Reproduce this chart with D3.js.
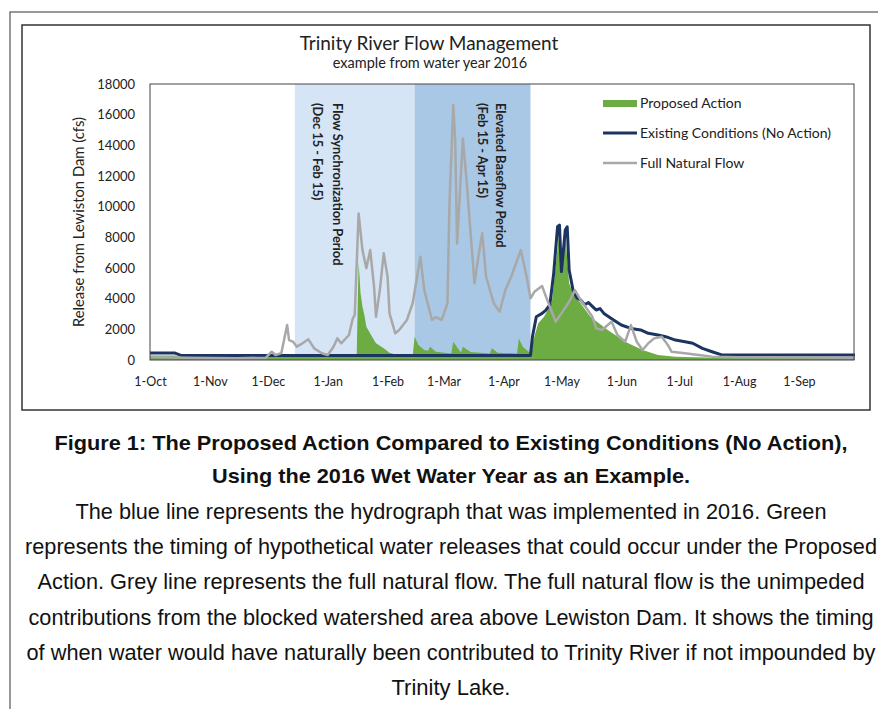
<html>
  <body style="margin:0;background:#fff">
    <style>
      .chart text { font-family: Lato, "Open Sans", sans-serif; fill: #222; }
      .caption text { font-family: "Liberation Sans Narrow", "Liberation Sans", Arial, sans-serif; fill: #111; }
      .axis path, .axis line { stroke: none; }
    </style>
    <script src="https://d3js.org/d3.v7.min.js"></script>
    <script>
      // Full Natural Flow (grey line)
      var naturalDates = ["2015-10-01","2015-10-20","2015-11-15","2015-11-30","2015-12-03","2015-12-05","2015-12-08","2015-12-11","2015-12-12","2015-12-14","2015-12-16","2015-12-19","2015-12-22","2015-12-25","2015-12-29","2016-01-01","2016-01-04","2016-01-06","2016-01-08","2016-01-12","2016-01-14","2016-01-15","2016-01-17","2016-01-19","2016-01-21","2016-01-23","2016-01-25","2016-01-26","2016-01-28","2016-01-30","2016-02-01","2016-02-02","2016-02-05","2016-02-07","2016-02-11","2016-02-14","2016-02-18","2016-02-20","2016-02-24","2016-02-26","2016-02-29","2016-03-03","2016-03-04","2016-03-06","2016-03-07","2016-03-08","2016-03-11","2016-03-13","2016-03-17","2016-03-19","2016-03-21","2016-03-23","2016-03-27","2016-03-30","2016-04-02","2016-04-05","2016-04-10","2016-04-13","2016-04-15","2016-04-17","2016-04-21","2016-04-23","2016-04-28","2016-05-01","2016-05-05","2016-05-08","2016-05-11","2016-05-14","2016-05-17","2016-05-19","2016-05-22","2016-05-25","2016-05-27","2016-05-30","2016-06-03","2016-06-06","2016-06-09","2016-06-12","2016-06-15","2016-06-18","2016-06-22","2016-06-25","2016-06-27","2016-07-04","2016-07-11","2016-07-18","2016-08-01","2016-09-30"];
      var naturalFlow = [200,150,120,150,540,330,450,2280,1300,1200,870,1090,1350,760,440,330,870,1410,1090,1630,2720,2930,9560,7170,5980,7170,4780,2820,4560,6960,5430,3040,1740,1960,2610,3700,6740,4560,2610,2800,2610,3700,10000,16630,14300,7600,14450,11520,5000,6740,8260,5430,3700,3150,4560,5430,7170,5430,4020,4450,4820,4130,2500,3040,3800,4560,3910,3370,2820,2060,1960,2280,2500,1630,1190,2280,1190,650,1090,1410,1520,1000,540,440,330,220,180,150];

      // Existing Conditions (No Action) (navy line)
      var existingDates = ["2015-10-01","2015-10-14","2015-10-17","2016-04-15","2016-04-16","2016-04-18","2016-04-21","2016-04-23","2016-04-25","2016-04-27","2016-04-29","2016-04-30","2016-05-01","2016-05-03","2016-05-04","2016-05-05","2016-05-07","2016-05-09","2016-05-11","2016-05-13","2016-05-15","2016-05-17","2016-05-19","2016-05-21","2016-05-23","2016-05-28","2016-06-01","2016-06-06","2016-06-11","2016-06-15","2016-06-20","2016-06-24","2016-06-29","2016-07-04","2016-07-08","2016-07-13","2016-07-18","2016-07-23","2016-09-30"];
      var existingFlow = [450,450,300,300,1520,2820,3040,3260,3590,5650,8690,8800,5760,8480,8690,5870,4560,4050,3910,3600,3750,3500,3260,3350,3040,2610,2280,2060,1960,1740,1630,1520,1300,1190,1090,760,540,330,330];

      // Proposed Action (green area)
      var proposedDates = ["2015-10-01","2015-10-14","2015-10-17","2015-12-01","2016-01-16","2016-01-17","2016-01-18","2016-01-19","2016-01-20","2016-01-21","2016-01-24","2016-01-26","2016-01-30","2016-02-02","2016-02-06","2016-02-14","2016-02-15","2016-02-17","2016-02-20","2016-02-22","2016-02-23","2016-02-26","2016-03-05","2016-03-06","2016-03-09","2016-03-10","2016-03-11","2016-03-15","2016-03-25","2016-03-26","2016-03-29","2016-04-08","2016-04-09","2016-04-11","2016-04-14","2016-04-15","2016-04-16","2016-04-19","2016-04-22","2016-04-26","2016-04-28","2016-04-30","2016-05-01","2016-05-03","2016-05-04","2016-05-05","2016-05-07","2016-05-09","2016-05-16","2016-05-25","2016-06-03","2016-06-12","2016-06-20","2016-06-29","2016-07-25","2016-09-30"];
      var proposedFlow = [300,300,180,200,200,6410,4370,3480,2930,2170,1520,1090,760,480,330,250,1520,980,650,600,870,540,430,1190,650,500,870,520,430,760,480,430,1410,870,540,540,1090,2390,2820,3700,6080,8480,5600,8260,6520,5000,4350,4020,2820,1960,1190,650,330,220,130,130];

      var yTicks = [0,2000,4000,6000,8000,10000,12000,14000,16000,18000];
      var monthTicks = ["2015-10-01","2015-11-01","2015-12-01","2016-01-01","2016-02-01","2016-03-01","2016-04-01","2016-05-01","2016-06-01","2016-07-01","2016-08-01","2016-09-01"];
      var periods = [
        {start: "2015-12-15", end: "2016-02-15", name: "Flow Synchronization Period", range: "(Dec 15 - Feb 15)"},
        {start: "2016-02-15", end: "2016-04-15", name: "Elevated Baseflow Period", range: "(Feb 15 - Apr 15)"}
      ];
      var legendNames = ["Proposed Action", "Existing Conditions (No Action)", "Full Natural Flow"];
      var captionBold = ["Figure 1: The Proposed Action Compared to Existing Conditions (No Action),",
                         "Using the 2016 Wet Water Year as an Example."];
      var captionBody = ["The blue line represents the hydrograph that was implemented in 2016. Green",
                         "represents the timing of hypothetical water releases that could occur under the Proposed",
                         "Action. Grey line represents the full natural flow. The full natural flow is the unimpeded",
                         "contributions from the blocked watershed area above Lewiston Dam. It shows the timing",
                         "of when water would have naturally been contributed to Trinity River if not impounded by",
                         "Trinity Lake."];

      var parse = d3.timeParse("%Y-%m-%d");
      function zip(dates, vals) {
        return dates.map(function(d, i) { return {date: parse(d), v: vals[i]}; });
      }
      var natural = zip(naturalDates, naturalFlow),
          existing = zip(existingDates, existingFlow),
          proposed = zip(proposedDates, proposedFlow);

      var svg = d3.select("body").append("svg")
        .attr("width", 878).attr("height", 709);

      // page frame and chart box
      svg.append("rect").attr("x", 10).attr("y", 12).attr("width", 880).attr("height", 720)
        .attr("fill", "none").attr("stroke", "#555").attr("stroke-width", 1.2);
      svg.append("rect").attr("x", 22).attr("y", 25).attr("width", 848).attr("height", 385)
        .attr("fill", "#fff").attr("stroke", "#333").attr("stroke-width", 1.5);

      var g = svg.append("g").attr("class", "chart");

      var x = d3.scaleTime()
        .domain([parse("2015-10-01"), parse("2016-09-30")])
        .range([150, 855]);
      var y = d3.scaleLinear().domain([0, 18000]).range([360, 84]);

      // shaded periods
      var shadeColors = ["#d5e5f6", "#a9c8e6"];
      periods.forEach(function(p, i) {
        g.append("rect")
          .attr("x", x(parse(p.start))).attr("y", y(18000))
          .attr("width", x(parse(p.end)) - x(parse(p.start)))
          .attr("height", y(0) - y(18000))
          .attr("fill", shadeColors[i]);
      });

      var area = d3.area()
        .x(function(d) { return x(d.date); })
        .y0(y(0))
        .y1(function(d) { return y(d.v); });
      var line = d3.line()
        .x(function(d) { return x(d.date); })
        .y(function(d) { return y(d.v); });

      g.append("path").datum(proposed).attr("d", area).attr("fill", "#6cac42");
      g.append("path").datum(existing).attr("d", line)
        .attr("fill", "none").attr("stroke", "#1b3560").attr("stroke-width", 3)
        .attr("stroke-linejoin", "round");
      g.append("path").datum(natural).attr("d", line)
        .attr("fill", "none").attr("stroke", "#a8a8a8").attr("stroke-width", 2.5)
        .attr("stroke-linejoin", "round");

      // plot frame
      g.append("rect").attr("x", 150).attr("y", 84).attr("width", 704).attr("height", 276)
        .attr("fill", "none").attr("stroke", "#444").attr("stroke-width", 1);

      // period labels (rotated)
      var labelX = [[337, 317], [500, 482]];
      periods.forEach(function(p, i) {
        [p.name, p.range].forEach(function(t, j) {
          g.append("text")
            .attr("transform", "translate(" + labelX[i][j] + ",103) rotate(90)")
            .attr("dy", "0.35em")
            .attr("font-size", 12.8).attr("font-weight", "bold")
            .attr("fill", "#111")
            .text(t);
        });
      });

      // axes
      g.append("g").attr("class", "axis")
        .attr("transform", "translate(150,0)")
        .call(d3.axisLeft(y).tickValues(yTicks).tickSize(0).tickPadding(15).tickFormat(d3.format("d")))
        .selectAll("text").attr("font-size", 13).attr("font-family", "Lato").attr("fill", "#222");
      g.append("g").attr("class", "axis")
        .attr("transform", "translate(0,360)")
        .call(d3.axisBottom(x).tickValues(monthTicks.map(parse)).tickSize(0).tickPadding(17)
          .tickFormat(d3.timeFormat("%-d-%b")))
        .selectAll("text").attr("font-size", 12.5).attr("font-family", "Lato").attr("fill", "#222");

      g.append("text")
        .attr("transform", "translate(84,222) rotate(-90)")
        .attr("text-anchor", "middle").attr("font-size", 14.8)
        .text("Release from Lewiston Dam (cfs)");

      // titles
      g.append("text").attr("x", 429).attr("y", 50).attr("text-anchor", "middle")
        .attr("font-size", 19).text("Trinity River Flow Management");
      g.append("text").attr("x", 430).attr("y", 68).attr("text-anchor", "middle")
        .attr("font-size", 14.5).text("example from water year 2016");

      // legend
      var lg = g.append("g");
      lg.append("rect").attr("x", 603).attr("y", 100).attr("width", 34).attr("height", 7).attr("fill", "#6cac42");
      lg.append("line").attr("x1", 603).attr("x2", 637).attr("y1", 133).attr("y2", 133)
        .attr("stroke", "#1b3560").attr("stroke-width", 3);
      lg.append("line").attr("x1", 603).attr("x2", 637).attr("y1", 163).attr("y2", 163)
        .attr("stroke", "#a8a8a8").attr("stroke-width", 2.5);
      legendNames.forEach(function(n, i) {
        lg.append("text").attr("x", 640).attr("y", 103 + i * 30).attr("dy", "0.35em")
          .attr("font-size", 14).text(n);
      });

      // caption
      var cap = svg.append("g").attr("class", "caption");
      var boldWidths = [793, 478];
      captionBold.forEach(function(t, i) {
        cap.append("text").attr("x", 451).attr("y", 450 + i * 33)
          .attr("text-anchor", "middle").attr("font-weight", "bold").attr("font-size", 21)
          .attr("textLength", boldWidths[i]).attr("lengthAdjust", "spacingAndGlyphs")
          .text(t);
      });
      var bodyWidths = [751, 852, 827, 845, 849, 119];
      captionBody.forEach(function(t, i) {
        cap.append("text").attr("x", 451).attr("y", 519 + i * 35.2)
          .attr("text-anchor", "middle").attr("font-size", 21.5)
          .attr("textLength", bodyWidths[i]).attr("lengthAdjust", "spacingAndGlyphs")
          .text(t);
      });
    </script>
  </body>
</html>
